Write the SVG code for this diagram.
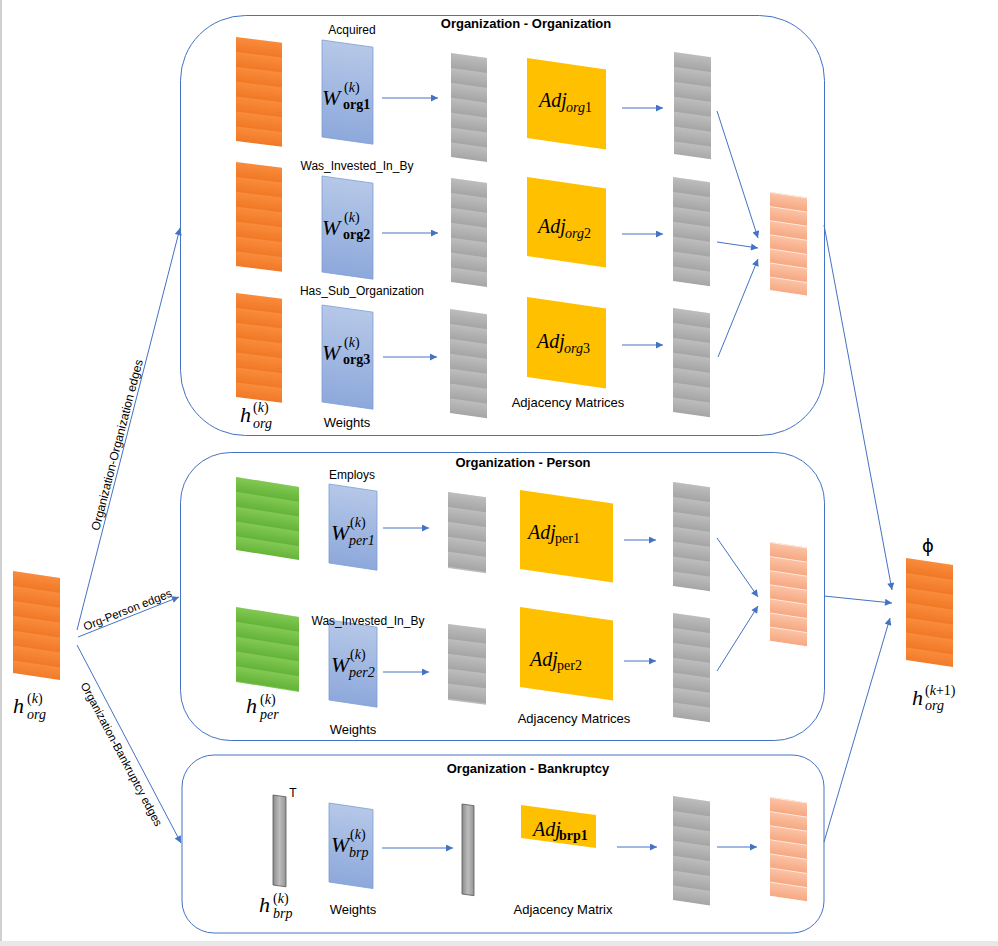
<svg xmlns="http://www.w3.org/2000/svg" width="998" height="946" viewBox="0 0 998 946">
<defs>
<linearGradient id="gOr" x1="0" y1="0" x2="0" y2="1"><stop offset="0" stop-color="#F98C3C"/><stop offset="1" stop-color="#F07826"/></linearGradient>
<linearGradient id="gGy" x1="0" y1="0" x2="0" y2="1"><stop offset="0" stop-color="#BDBDBD"/><stop offset="1" stop-color="#A5A5A5"/></linearGradient>
<linearGradient id="gGr" x1="0" y1="0" x2="0" y2="1"><stop offset="0" stop-color="#82C954"/><stop offset="1" stop-color="#64B337"/></linearGradient>
<linearGradient id="gPk" x1="0" y1="0" x2="0" y2="1"><stop offset="0" stop-color="#FBC4A6"/><stop offset="1" stop-color="#F6A882"/></linearGradient>
<linearGradient id="gBl" x1="0" y1="0" x2="0" y2="1"><stop offset="0" stop-color="#B6C8E8"/><stop offset="1" stop-color="#8DA8DB"/></linearGradient>
<linearGradient id="gBar" x1="0" y1="0" x2="1" y2="0"><stop offset="0" stop-color="#8A8A8A"/><stop offset="0.5" stop-color="#BDBDBD"/><stop offset="1" stop-color="#959595"/></linearGradient>
<pattern id="pOr" patternUnits="userSpaceOnUse" width="100" height="14.9"><rect width="100" height="14.9" fill="url(#gOr)"/></pattern>
<pattern id="pGy" patternUnits="userSpaceOnUse" width="100" height="14.9"><rect width="100" height="14.9" fill="url(#gGy)"/></pattern>
<pattern id="pGr" patternUnits="userSpaceOnUse" width="100" height="14.8"><rect width="100" height="14.8" fill="url(#gGr)"/></pattern>
<pattern id="pPk" patternUnits="userSpaceOnUse" width="100" height="14.1"><rect width="100" height="14.1" fill="url(#gPk)"/><rect width="100" height="0.8" fill="#FFF1E8"/></pattern>
<marker id="ah" viewBox="0 0 10 10" refX="10" refY="5" markerWidth="8" markerHeight="7" markerUnits="userSpaceOnUse" orient="auto"><path d="M0,0 L10,5 L0,10 z" fill="#4472C4"/></marker>
<style>
.bx{fill:none;stroke:#4472C4;stroke-width:1}
.cn{fill:none;stroke:#4472C4;stroke-width:1;marker-end:url(#ah)}
.or{fill:url(#pOr)}
.gy{fill:url(#pGy)}
.gr{fill:url(#pGr)}
.pk{fill:url(#pPk)}
.w{fill:url(#gBl);stroke:#7F9FD6;stroke-width:0.8}
.adj{fill:#FFC000}
.bar{fill:url(#gBar);stroke:#5A5A5A;stroke-width:0.8}
.t{font-family:"Liberation Sans",Arial,sans-serif;fill:#000}
.s12{font-size:12px}
.s13{font-size:13px}
.b{font-weight:bold}
.m{font-family:"Liberation Serif","Times New Roman",serif;fill:#000}
.mi{font-style:italic}
.big{font-size:22px}
.adjt{font-size:20px}
.sm{font-size:14px}
</style>
</defs>
<rect width="998" height="946" fill="#FFFFFF"/>
<rect x="0" y="0" width="2" height="946" fill="#D0D0D0"/>
<rect x="0" y="941" width="998" height="5" fill="#E8E8E8"/>

<g id="boxes">
<rect id="box-org-org" class="bx" x="180.5" y="15.5" width="644" height="420" rx="65" ry="65"/>
<rect id="box-org-per" class="bx" x="180.5" y="452.5" width="644" height="288" rx="50" ry="50"/>
<rect id="box-org-brp" class="bx" x="182" y="755" width="642" height="178" rx="32" ry="32"/>
<text class="t s13 b" x="526" y="28" text-anchor="middle">Organization - Organization</text>
<text class="t s13 b" x="523" y="467" text-anchor="middle">Organization - Person</text>
<text class="t s13 b" x="528" y="773" text-anchor="middle">Organization - Bankruptcy</text>
</g>

<!-- Input -->
<g id="input">
<rect class="or" width="47" height="102" transform="translate(13 571) skewY(8.5)"/>
<text class="m mi big" x="13" y="713">h</text>
<text class="m sm" x="27" y="703">(<tspan class="mi">k</tspan>)</text>
<text class="m mi sm" x="27" y="719">org</text>
</g>

<!-- Org-Org box -->
<g id="oo-h1"><rect class="or" width="46" height="104" transform="translate(236 37) skewY(7)"/></g>
<g id="oo-h2"><rect class="or" width="46" height="104" transform="translate(236 162) skewY(7)"/></g>
<g id="oo-h3"><rect class="or" width="46" height="104" transform="translate(236 293) skewY(7)"/>
<text class="m mi big" x="240" y="422">h</text>
<text class="m sm" x="253" y="412">(<tspan class="mi">k</tspan>)</text>
<text class="m mi sm" x="253" y="428">org</text>
</g>

<g id="oo-w1"><rect class="w" width="51" height="97" transform="translate(322 40) skewY(8)"/>
<text class="t s12" x="352" y="34" text-anchor="middle">Acquired</text>
<text class="m mi big" x="322" y="105">W</text>
<text class="m sm" x="344" y="92">(<tspan class="mi">k</tspan>)</text>
<text class="m sm b" x="343" y="109">org1</text>
</g>
<g id="oo-w2"><rect class="w" width="51" height="96" transform="translate(322 176) skewY(8)"/>
<text class="t s12" x="357" y="170" text-anchor="middle">Was_Invested_In_By</text>
<text class="m mi big" x="322" y="235">W</text>
<text class="m sm" x="344" y="222">(<tspan class="mi">k</tspan>)</text>
<text class="m sm b" x="343" y="239">org2</text>
</g>
<g id="oo-w3"><rect class="w" width="51" height="97" transform="translate(322 305) skewY(8)"/>
<text class="t s12" x="362" y="295" text-anchor="middle">Has_Sub_Organization</text>
<text class="m mi big" x="322" y="360">W</text>
<text class="m sm" x="344" y="347">(<tspan class="mi">k</tspan>)</text>
<text class="m sm b" x="343" y="364">org3</text>
<text class="t s13" x="347" y="427" text-anchor="middle">Weights</text>
</g>

<g id="oo-p1"><rect class="gy" width="36" height="104" transform="translate(451 53) skewY(8)"/></g>
<g id="oo-p2"><rect class="gy" width="36" height="104" transform="translate(451 178) skewY(8)"/></g>
<g id="oo-p3"><rect class="gy" width="37" height="104" transform="translate(450 309) skewY(8)"/></g>

<g id="oo-adj1"><rect class="adj" width="79" height="80" transform="translate(527 58) skewY(8.3)"/>
<text class="m mi adjt" x="539" y="107">Adj</text>
<text class="m sm" x="566" y="112"><tspan class="mi">org</tspan>1</text>
</g>
<g id="oo-adj2"><rect class="adj" width="79" height="79" transform="translate(527 177) skewY(8.3)"/>
<text class="m mi adjt" x="538" y="233">Adj</text>
<text class="m sm" x="565" y="238"><tspan class="mi">org</tspan>2</text>
</g>
<g id="oo-adj3"><rect class="adj" width="79" height="80" transform="translate(527 297) skewY(8.3)"/>
<text class="m mi adjt" x="537" y="348">Adj</text>
<text class="m sm" x="564" y="353"><tspan class="mi">org</tspan>3</text>
<text class="t s13" x="568" y="407" text-anchor="middle">Adjacency Matrices</text>
</g>

<g id="oo-q1"><rect class="gy" width="37" height="102" transform="translate(674 52) skewY(8)"/></g>
<g id="oo-q2"><rect class="gy" width="37" height="104" transform="translate(673 177) skewY(8)"/></g>
<g id="oo-q3"><rect class="gy" width="37" height="104" transform="translate(673 308) skewY(8)"/></g>
<g id="oo-agg"><rect class="pk" width="37" height="98" transform="translate(770 192) skewY(8.5)"/></g>

<!-- Org-Person box -->
<g id="op-h1"><rect class="gr" width="63" height="73" transform="translate(236 477) skewY(9)"/></g>
<g id="op-h2"><rect class="gr" width="63" height="75" transform="translate(236 607) skewY(9)"/>
<text class="m mi big" x="246" y="713">h</text>
<text class="m sm" x="260" y="704">(<tspan class="mi">k</tspan>)</text>
<text class="m mi sm" x="260" y="719">per</text>
</g>
<g id="op-w1"><rect class="w" width="48" height="79" transform="translate(329 484) skewY(8.5)"/>
<text class="t s12" x="352" y="479" text-anchor="middle">Employs</text>
<text class="m mi big" x="331" y="540">W</text>
<text class="m sm" x="350" y="527">(<tspan class="mi">k</tspan>)</text>
<text class="m mi sm" x="349" y="545">per1</text>
</g>
<g id="op-w2"><rect class="w" width="48" height="80" transform="translate(329 620) skewY(8.5)"/>
<text class="t s12" x="368" y="625" text-anchor="middle">Was_Invested_In_By</text>
<text class="m mi big" x="331" y="672">W</text>
<text class="m sm" x="350" y="659">(<tspan class="mi">k</tspan>)</text>
<text class="m mi sm" x="349" y="677">per2</text>
<text class="t s13" x="353" y="734" text-anchor="middle">Weights</text>
</g>
<g id="op-p1"><rect class="gy" width="38" height="76" transform="translate(448 492) skewY(8)"/></g>
<g id="op-p2"><rect class="gy" width="38" height="76" transform="translate(448 624) skewY(7)"/></g>
<g id="op-adj1"><rect class="adj" width="93" height="79" transform="translate(520 490) skewY(8.3)"/>
<text class="m mi adjt" x="528" y="539">Adj</text>
<text class="m sm" x="555" y="543">per1</text>
</g>
<g id="op-adj2"><rect class="adj" width="93" height="80" transform="translate(520 607) skewY(8.3)"/>
<text class="m mi adjt" x="530" y="666">Adj</text>
<text class="m sm" x="557" y="670">per2</text>
<text class="t s13" x="574" y="723" text-anchor="middle">Adjacency Matrices</text>
</g>
<g id="op-q1"><rect class="gy" width="37" height="104" transform="translate(673 482) skewY(8)"/></g>
<g id="op-q2"><rect class="gy" width="37" height="104" transform="translate(673 613) skewY(8)"/></g>
<g id="op-agg"><rect class="pk" width="37" height="99" transform="translate(770 542) skewY(8.5)"/></g>

<!-- Org-Bankruptcy box -->
<g id="ob-h"><rect class="bar" width="13" height="90" transform="translate(273 795) skewY(8)"/>
<text class="t s12" x="293" y="797" text-anchor="middle">T</text>
<text class="m mi big" x="259" y="912">h</text>
<text class="m sm" x="273" y="903">(<tspan class="mi">k</tspan>)</text>
<text class="m mi sm" x="273" y="918">brp</text>
</g>
<g id="ob-w"><rect class="w" width="44" height="79" transform="translate(329 803) skewY(8.5)"/>
<text class="m mi big" x="331" y="852">W</text>
<text class="m sm" x="350" y="839">(<tspan class="mi">k</tspan>)</text>
<text class="m mi sm" x="349" y="857">brp</text>
<text class="t s13" x="353" y="914" text-anchor="middle">Weights</text>
</g>
<g id="ob-p"><rect class="bar" width="12" height="90" transform="translate(462 804) skewY(8)"/></g>
<g id="ob-adj"><rect class="adj" width="75" height="33" transform="translate(521 805) skewY(7.6)"/>
<text class="m mi adjt" x="533" y="836">Adj</text>
<text class="m sm b" x="559" y="840">brp1</text>
<text class="t s13" x="563" y="914" text-anchor="middle">Adjacency Matrix</text>
</g>
<g id="ob-q"><rect class="gy" width="37" height="104" transform="translate(673 796) skewY(8.5)"/></g>
<g id="ob-agg"><rect class="pk" width="37" height="99" transform="translate(770 797) skewY(8.5)"/></g>

<!-- Output -->
<g id="output">
<text x="928" y="552" font-family="DejaVu Sans, sans-serif" font-size="18" text-anchor="middle">ϕ</text>
<rect class="or" width="47" height="102" transform="translate(906 558) skewY(8.5)"/>
<text class="m mi big" x="912" y="705">h</text>
<text class="m sm" x="925" y="695">(<tspan class="mi">k</tspan>+1)</text>
<text class="m mi sm" x="925" y="710">org</text>
</g>

<g id="connectors">
<line class="cn" x1="382" y1="98" x2="438" y2="98"/>
<line class="cn" x1="382" y1="233" x2="438" y2="233"/>
<line class="cn" x1="383" y1="357" x2="437" y2="357"/>
<line class="cn" x1="622" y1="108" x2="663" y2="108"/>
<line class="cn" x1="622" y1="234" x2="663" y2="234"/>
<line class="cn" x1="622" y1="345" x2="663" y2="345"/>
<line class="cn" x1="717" y1="111" x2="758" y2="238"/>
<line class="cn" x1="717" y1="242" x2="758" y2="248"/>
<line class="cn" x1="718" y1="357" x2="758" y2="259"/>
<line class="cn" x1="383" y1="528" x2="429" y2="528"/>
<line class="cn" x1="383" y1="672" x2="429" y2="672"/>
<line class="cn" x1="624" y1="540" x2="656" y2="540"/>
<line class="cn" x1="624" y1="661" x2="656" y2="661"/>
<line class="cn" x1="717" y1="538" x2="758" y2="597"/>
<line class="cn" x1="717" y1="671" x2="758" y2="606"/>
<line class="cn" x1="382" y1="848" x2="453" y2="848"/>
<line class="cn" x1="617" y1="847" x2="657" y2="847"/>
<line class="cn" x1="717" y1="847" x2="757" y2="847"/>
<line class="cn" x1="824" y1="225" x2="892" y2="590"/>
<line class="cn" x1="824" y1="596" x2="892" y2="603"/>
<line class="cn" x1="824" y1="842" x2="890" y2="618"/>
<line class="cn" x1="77" y1="630" x2="180" y2="228"/>
<line class="cn" x1="78" y1="637" x2="179" y2="597"/>
<line class="cn" x1="77" y1="645" x2="181" y2="843"/>
<text class="t s12" transform="translate(121 446) rotate(-75.6)" text-anchor="middle">Organization-Organization edges</text>
<text class="t" font-size="11.5" transform="translate(129 613.5) rotate(-21.6)" text-anchor="middle">Org-Person edges</text>
<text class="t" font-size="11.5" transform="translate(118 756) rotate(62)" text-anchor="middle">Organization-Bankruptcy edges</text>
</g>
</svg>
